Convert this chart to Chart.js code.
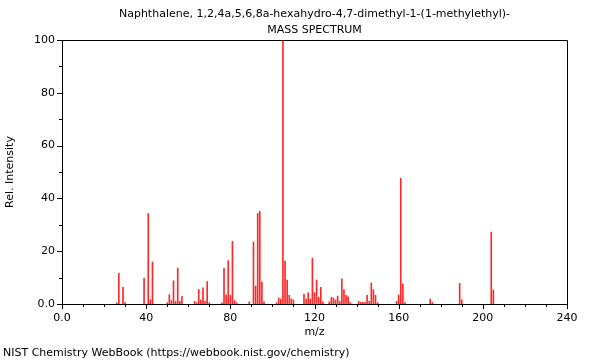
<!DOCTYPE html>
<html>
<head>
<meta charset="utf-8">
<script src="https://cdn.jsdelivr.net/npm/chart.js@4"></script>
<style>
  html, body { margin: 0; padding: 0; background: #fff; }
  #wrap { width: 600px; height: 360px; position: relative; }
</style>
</head>
<body>
<div id="wrap"><canvas id="msChart" width="600" height="360"></canvas></div>
<script>
var titleLines = ["Naphthalene, 1,2,4a,5,6,8a-hexahydro-4,7-dimethyl-1-(1-methylethyl)-", "MASS SPECTRUM"];
var footerText = "NIST Chemistry WebBook (https://webbook.nist.gov/chemistry)";

var mz = [26,27,29,30,39,41,42,43,50,51,52,53,54,55,56,57,63,64,65,66,67,68,69,70,
  76,77,78,79,80,81,82,83,89,91,92,93,94,95,96,102,103,104,105,106,107,108,109,110,
  115,116,117,118,119,120,121,122,123,124,127,128,129,130,131,132,133,134,135,136,137,
  141,142,143,144,145,146,147,148,149,150,159,160,161,162,163,175,176,189,190,204,205];
var intensity = [0.4,11.6,6.3,0.5,9.7,34.3,1.6,15.9,0.5,3.5,1.3,8.8,1.0,13.6,1.0,2.9,1.0,0.5,5.5,1.5,6.1,1.0,8.5,0.5,
  0.4,13.5,3.5,16.4,3.3,23.7,1.3,0.5,0.8,23.5,6.8,34.3,35.1,8.3,0.8,0.5,2.3,1.9,100,16.3,9.1,3.3,2.0,1.5,
  3.8,1.9,4.3,1.9,17.3,4.3,9.1,2.5,6.3,0.8,0.8,2.5,2.3,1.5,3.0,1.0,9.5,5.4,3.3,2.7,0.5,
  1.0,0.6,0.6,0.6,3.3,1.0,7.9,5.4,3.3,0.5,1.0,3.4,47.6,7.6,0.5,1.9,0.6,7.8,1.6,27.2,5.3];

var xMajor = [0, 40, 80, 120, 160, 200, 240];
var yMajor = [0, 20, 40, 60, 80, 100];

var points = mz.map(function(m, i){ return {x: m, y: intensity[i]}; });
var FONT = "DejaVu Sans";

// frame, minor/major tick marks, title and footer
const decorations = {
  id: 'decorations',
  afterDraw: (chart) => {
    const {ctx, chartArea, scales} = chart;
    ctx.save();
    ctx.strokeStyle = '#000';
    ctx.lineWidth = 1;
    ctx.beginPath();
    ctx.moveTo(chartArea.left, chartArea.top + 0.5);
    ctx.lineTo(chartArea.right + 0.5, chartArea.top + 0.5);
    ctx.lineTo(chartArea.right + 0.5, chartArea.bottom);
    for (var v = 0; v <= 240; v += 10) {
      var px = Math.round(scales.x.getPixelForValue(v)) + 0.5;
      var len = xMajor.indexOf(v) >= 0 ? 5 : 3;
      ctx.moveTo(px, chartArea.bottom);
      ctx.lineTo(px, chartArea.bottom + len);
    }
    for (var w = 0; w <= 100; w += 10) {
      var py = Math.round(scales.y.getPixelForValue(w)) + 0.5;
      var len2 = yMajor.indexOf(w) >= 0 ? 5 : 3;
      ctx.moveTo(chartArea.left, py);
      ctx.lineTo(chartArea.left - len2, py);
    }
    ctx.stroke();

    ctx.fillStyle = '#000';
    ctx.font = '11px "' + FONT + '"';
    ctx.textAlign = 'center';
    ctx.textBaseline = 'middle';
    var cx = (chartArea.left + chartArea.right) / 2;
    ctx.fillText(titleLines[0], cx, 14);
    ctx.fillText(titleLines[1], cx, 30);
    ctx.textAlign = 'left';
    ctx.fillText(footerText, 3, 353);
    ctx.restore();
  }
};

new Chart(document.getElementById("msChart"), {
  type: "bar",
  data: {
    datasets: [{
      data: points,
      backgroundColor: "rgb(255,40,40)",
      borderWidth: 0,
      barThickness: 1
    }]
  },
  options: {
    responsive: false,
    animation: false,
    layout: { padding: { left: 0, right: 33, top: 40, bottom: 20 } },
    plugins: { legend: { display: false }, tooltip: { enabled: false } },
    scales: {
      x: {
        type: 'linear',
        min: 0,
        max: 240,
        offset: false,
        afterFit: (scale) => { scale.height = 36; },
        grid: { display: false, drawTicks: false, offset: false },
        border: { display: true, color: '#000', width: 1 },
        ticks: {
          stepSize: 40,
          padding: 8,
          maxRotation: 0,
          color: '#000',
          font: { family: FONT, size: 11 },
          callback: (v) => v === 0 ? '0.0' : String(v)
        },
        title: { display: true, text: 'm/z', color: '#000', padding: { top: 0, bottom: 1 }, font: { family: FONT, size: 11 } }
      },
      y: {
        min: 0,
        max: 100,
        afterFit: (scale) => { scale.width = 62; },
        grid: { display: false, drawTicks: false },
        border: { display: true, color: '#000', width: 1 },
        ticks: {
          stepSize: 20,
          padding: 7,
          color: '#000',
          font: { family: FONT, size: 11 },
          callback: (v) => v === 0 ? '0.0' : String(v)
        },
        title: { display: true, text: 'Rel. Intensity', color: '#000', padding: { top: 4, bottom: 0 }, font: { family: FONT, size: 11 } }
      }
    }
  },
  plugins: [decorations]
});
</script>
</body>
</html>
